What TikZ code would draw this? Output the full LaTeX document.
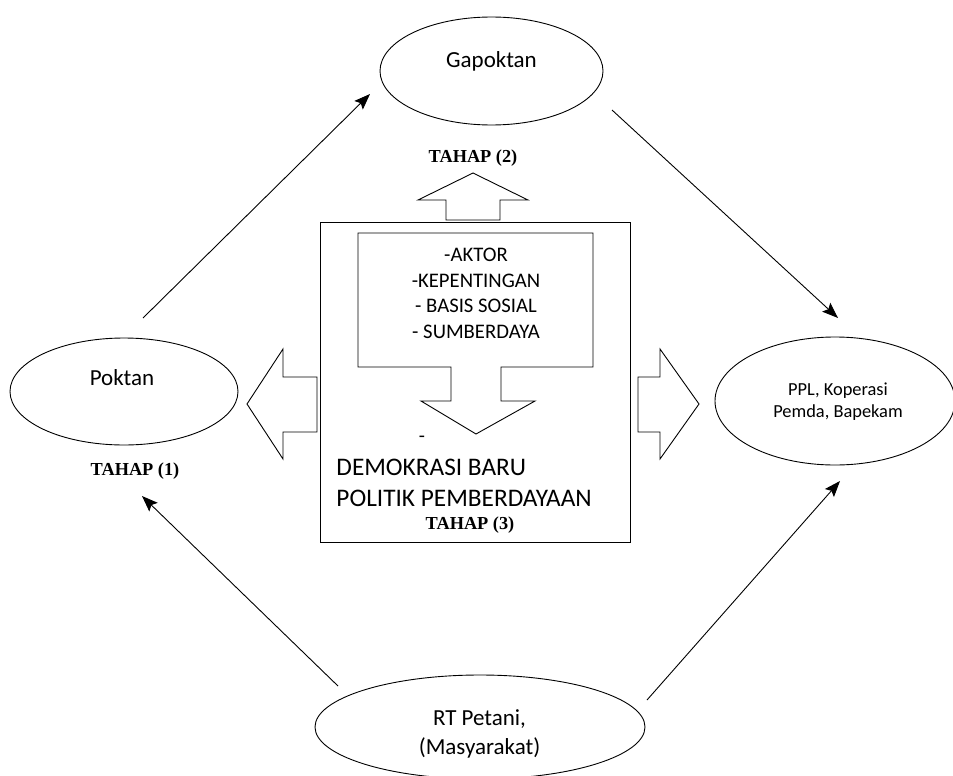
\documentclass[tikz,border=0pt]{standalone}
\usepackage{fontspec}
\setmainfont{Carlito}
\newfontfamily\tahapfont{Liberation Serif}
\usetikzlibrary{shapes.geometric,arrows.meta}

\begin{document}
\begin{tikzpicture}[x=1pt, y=-1pt, line width=0.9pt,
    oval/.style={ellipse, draw, inner sep=0pt},
    txt/.style={inner sep=0pt, align=center},
    tahap/.style={inner sep=0pt, font=\tahapfont\bfseries\fontsize{18.3}{22}\selectfont},
    conn/.style={-{Stealth[length=16pt,width=12pt,inset=3pt]}}]
  \useasboundingbox (0,0) rectangle (953,776);

  % Ellipses round the centre box
  \node[oval, minimum width=223pt, minimum height=108pt] (gapoktan) at (491.5,71) {};
  \node[oval, minimum width=228pt, minimum height=107pt] (poktan) at (124,391.5) {};
  \node[oval, minimum width=240pt, minimum height=128pt] (ppl) at (835,401) {};
  \node[oval, minimum width=330pt, minimum height=104pt] (rtpetani) at (480,727) {};

  % Texts in the ellipses
  \node[txt, anchor=base, font=\fontsize{23}{28}\selectfont] (gapoktanlbl) at (491.5,67.4) {Gapoktan};
  \node[txt, anchor=base, font=\fontsize{23}{28}\selectfont] (poktanlbl) at (122,385.4) {Poktan};
  \node[txt, font=\fontsize{18.4}{22}\selectfont] (ppllbl) at (838,402) {PPL, Koperasi\\Pemda, Bapekam};
  \node[txt, font=\fontsize{23}{29}\selectfont] (rtpetanilbl) at (479.5,734) {RT Petani,\\(Masyarakat)};

  % Centre box with the callout inside
  \node[draw, inner sep=0pt, minimum width=310pt, minimum height=320pt] (mainbox) at (475,382) {};
  \draw (358,233) -- (593,233) -- (593,367) -- (501,367) -- (501,401) -- (535,401)
    -- (476,434) -- (421,401) -- (451,401) -- (451,367) -- (358,367) -- cycle;
  \node[txt, font=\fontsize{20.7}{25.7}\selectfont] (faktor) at (476,293.5)
    {-AKTOR\\-KEPENTINGAN\\- BASIS SOSIAL\\- SUMBERDAYA};
  \node[txt, font=\fontsize{20}{24}\selectfont] (dash) at (422,439) {-};
  \node[txt, anchor=west, align=left, font=\fontsize{25.3}{31}\selectfont] (demokrasi) at (336,482.5)
    {DEMOKRASI BARU\\POLITIK PEMBERDAYAAN};

  % Block arrows out of the box
  \draw (446,220) -- (446,200) -- (418,200) -- (473,173) -- (528,200) -- (500,200) -- (500,220) -- cycle;
  \draw (317,377) -- (283,377) -- (283,349) -- (247,404) -- (283,459) -- (283,432) -- (317,432) -- cycle;
  \draw (638,377) -- (660,377) -- (660,349) -- (699,404) -- (660,459) -- (660,432) -- (638,432) -- cycle;

  % Stage labels
  \node[tahap] (tahap1) at (135,471) {TAHAP (1)};
  \node[tahap] (tahap2) at (473,158) {TAHAP (2)};
  \node[tahap] (tahap3) at (470,525) {TAHAP (3)};

  % Arrows between the ellipses
  \coordinate (pk1) at (143,318);
  \coordinate (gp1) at (370,94);
  \coordinate (gp2) at (612,110);
  \coordinate (pp1) at (838,318);
  \coordinate (rt1) at (338,686);
  \coordinate (pk2) at (142,496);
  \coordinate (rt2) at (647,700);
  \coordinate (pp2) at (840,481);
  \draw[conn] (pk1) -- (gp1);
  \draw[conn] (gp2) -- (pp1);
  \draw[conn] (rt1) -- (pk2);
  \draw[conn] (rt2) -- (pp2);
\end{tikzpicture}
\end{document}
